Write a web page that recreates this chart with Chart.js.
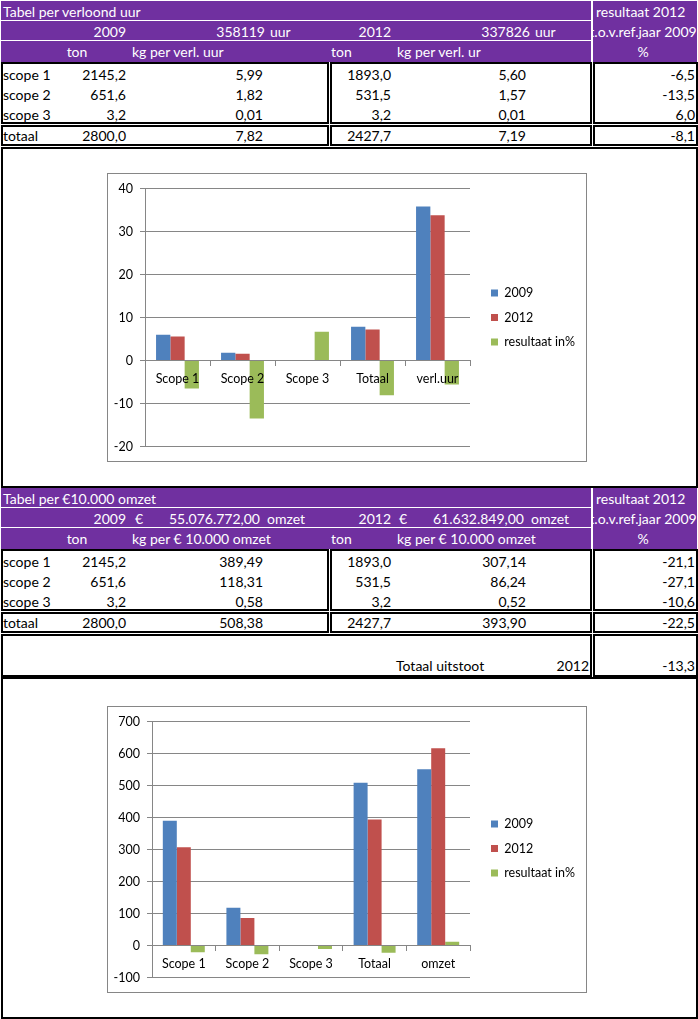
<!DOCTYPE html>
<html>
<head>
<meta charset="utf-8">
<script src="https://cdn.jsdelivr.net/npm/chart.js@4"></script>
<style>
  body { margin: 0; width: 698px; height: 1019px; position: relative; background: #fff; overflow: hidden;
         font-family: Lato, "Open Sans", sans-serif; font-size: 14px; color: #000; }
  .purple { position: absolute; background: #7030a0; }
  .wline { position: absolute; background: #fff; height: 1px; }
  .box { position: absolute; border: 2px solid #000; box-sizing: border-box; background: #fff; }
  .t { position: absolute; height: 20px; line-height: 20px; white-space: nowrap; }
  .w { color: #fff; }
  .clip { position: absolute; overflow: hidden; }
  .chartbox { position: absolute; border: 1px solid #868686; box-sizing: border-box; background: #fff; }
  .chartbox canvas { display: block; }
</style>
</head>
<body>
<div id="sheet"></div>
<script>
// chart 1: kg per verloond uur
const hourLabels = ["Scope 1", "Scope 2", "Scope 3", "Totaal", "verl.uur"];
const hour2009 = [5.99, 1.82, 0.01, 7.82, 35.81];
const hour2012 = [5.60, 1.57, 0.01, 7.19, 33.78];
const hourResult = [-6.5, -13.5, 6.7, -8.1, -5.6];

// chart 2: kg per 10.000 euro omzet
const revLabels = ["Scope 1", "Scope 2", "Scope 3", "Totaal", "omzet"];
const rev2009 = [389.49, 118.31, 0.58, 508.38, 550.77];
const rev2012 = [307.14, 86.24, 0.52, 393.90, 616.33];
const revResult = [-21.1, -27.1, -10.6, -22.5, 11.9];

const seriesNames = ["2009", "2012", "resultaat in%"];
const seriesColors = ["#4f81bd", "#c0504d", "#9bbb59"];

// table text
const hourRows = [
  ["scope 1", "2145,2", "5,99", "1893,0", "5,60", "-6,5"],
  ["scope 2", "651,6", "1,82", "531,5", "1,57", "-13,5"],
  ["scope 3", "3,2", "0,01", "3,2", "0,01", "6,0"]
];
const hourTotal = ["totaal", "2800,0", "7,82", "2427,7", "7,19", "-8,1"];
const revRows = [
  ["scope 1", "2145,2", "389,49", "1893,0", "307,14", "-21,1"],
  ["scope 2", "651,6", "118,31", "531,5", "86,24", "-27,1"],
  ["scope 3", "3,2", "0,58", "3,2", "0,52", "-10,6"]
];
const revTotal = ["totaal", "2800,0", "508,38", "2427,7", "393,90", "-22,5"];

const sheet = document.getElementById("sheet");
const chartFont = { size: 12.5, family: "Lato" };

function el(cls, x, y, w, h, parent = sheet) {
  const d = document.createElement("div");
  d.className = cls;
  Object.assign(d.style, { left: x + "px", top: y + "px", width: w + "px", height: h + "px" });
  parent.appendChild(d);
  return d;
}

// x is the left edge, right edge or centre depending on align; y is the text centre
function text(str, x, y, align = "left", cls = "", parent = sheet) {
  const d = document.createElement("div");
  d.className = "t " + cls;
  d.textContent = str;
  d.style.top = (y - 10) + "px";
  if (align === "left") d.style.left = x + "px";
  if (align === "right") { d.style.left = (x - 300) + "px"; d.style.width = "300px"; d.style.textAlign = "right"; }
  if (align === "center") { d.style.left = (x - 150) + "px"; d.style.width = "300px"; d.style.textAlign = "center"; }
  parent.appendChild(d);
}

function header(top, title, yearRow, unitLabel) {
  el("purple", 1, top, 590, 61);
  el("purple", 593, top, 104, 61);
  el("wline", 1, top + 19, 590, 1);
  el("wline", 1, top + 39, 590, 1);
  text(title, 3, top + 11, "left", "w");
  yearRow.forEach(([s, x, a]) => text(s, x, top + 31, a, "w"));
  text("ton", 77, top + 51, "center", "w");
  text(unitLabel[0], 132, top + 51, "left", "w");
  text("ton", 331, top + 51, "left", "w");
  text(unitLabel[1], 397, top + 51, "left", "w");
  const c = el("clip", 593, top, 104, 61);
  text("resultaat 2012", 3, 11, "left", "w", c);
  text("t.o.v.ref.jaar 2009", 50, 31, "center", "w", c);
  text("%", 50, 51, "center", "w", c);
}

const colX = [[3, "left"], [126, "right"], [263, "right"], [391, "right"], [526, "right"], [695, "right"]];

function dataBlock(top, rows, total) {
  el("box", 1, top, 328, 62);
  el("box", 330, top, 262, 62);
  el("box", 593, top, 105, 62);
  rows.forEach((row, r) => row.forEach((s, i) => text(s, colX[i][0], top + 13 + r * 20, colX[i][1])));
  const tt = top + 63;
  el("box", 1, tt, 328, 21);
  el("box", 330, tt, 262, 21);
  el("box", 593, tt, 105, 21);
  total.forEach((s, i) => text(s, colX[i][0], tt + 11, colX[i][1]));
}

// table 1
header(1, "Tabel per verloond uur",
  [["2009", 126, "right"], ["358119", 265, "right"], ["uur", 270, "left"],
   ["2012", 391, "right"], ["337826", 530, "right"], ["uur", 535, "left"]],
  ["kg per verl. uur", "kg per verl. ur"]);
dataBlock(62, hourRows, hourTotal);
el("box", 1, 147, 697, 341);

// table 2
header(488, "Tabel per \u20ac10.000 omzet",
  [["2009", 126, "right"], ["\u20ac", 135, "left"], ["55.076.772,00", 260, "right"], ["omzet", 267, "left"],
   ["2012", 391, "right"], ["\u20ac", 399, "left"], ["61.632.849,00", 524, "right"], ["omzet", 531, "left"]],
  ["kg per \u20ac 10.000 omzet", "kg per \u20ac 10.000 omzet"]);
dataBlock(549, revRows, revTotal);
el("box", 1, 634, 591, 43);
el("box", 593, 634, 105, 43);
text("Totaal uitstoot", 396, 666, "left");
text("2012", 589, 666, "right");
text("-13,3", 695, 666, "right");
el("box", 1, 677, 697, 342);

// moves the legend a few pixels away from the plot, like the Excel chart
const legendGap = {
  id: "legendGap",
  afterLayout(chart, args, opts) {
    chart.legend.left += opts.gap;
    chart.legend.right += opts.gap;
  }
};

function buildChart(top, height, labels, s2009, s2012, result, yMin, yMax, step, axisWidth, pad) {
  const box = el("chartbox", 107, top, 480, height);
  const canvas = document.createElement("canvas");
  canvas.width = 478;
  canvas.height = height - 2;
  box.appendChild(canvas);

  // legend width = padding + box + half font + widest text
  const ctx = canvas.getContext("2d");
  ctx.font = `${chartFont.size}px ${chartFont.family}`;
  const textW = Math.max(...seriesNames.map(s => ctx.measureText(s).width));
  const legendW = 12 + 7 + chartFont.size / 2 + textW;
  const plotRight = 363;

  const data = [s2009, s2012, result];
  new Chart(canvas, {
    type: "bar",
    data: {
      labels,
      datasets: data.map((values, i) => ({
        label: seriesNames[i],
        data: values,
        backgroundColor: seriesColors[i],
        borderWidth: 0,
        barPercentage: 1,
        categoryPercentage: 0.66
      }))
    },
    plugins: [legendGap],
    options: {
      responsive: false,
      animation: false,
      layout: { padding: { top: pad.top, bottom: pad.bottom, left: 0, right: 478 - plotRight - legendW - 9 } },
      plugins: {
        legendGap: { gap: 9 },
        legend: {
          position: "right",
          labels: { boxWidth: 7, boxHeight: 7, padding: 12, color: "#000", font: chartFont }
        },
        tooltip: { enabled: false }
      },
      scales: {
        x: {
          position: { y: 0 },
          grid: { drawOnChartArea: false, offset: true, tickLength: 5, color: "#868686" },
          border: { color: "#868686", z: 1 },
          ticks: { z: 1, padding: 6, color: "#000", font: chartFont }
        },
        y: {
          min: yMin,
          max: yMax,
          afterFit: scale => { scale.width = axisWidth; },
          grid: { color: "#868686", tickLength: 5 },
          border: { color: "#868686" },
          ticks: { stepSize: step, padding: 7, color: "#000", font: chartFont }
        }
      }
    }
  });
}

buildChart(173, 289, hourLabels, hour2009, hour2012, hourResult, -20, 40, 10, 37, { top: 14, bottom: 14 });
buildChart(706, 287, revLabels, rev2009, rev2012, revResult, -100, 700, 100, 44, { top: 12, bottom: 14 });
</script>
</body>
</html>
